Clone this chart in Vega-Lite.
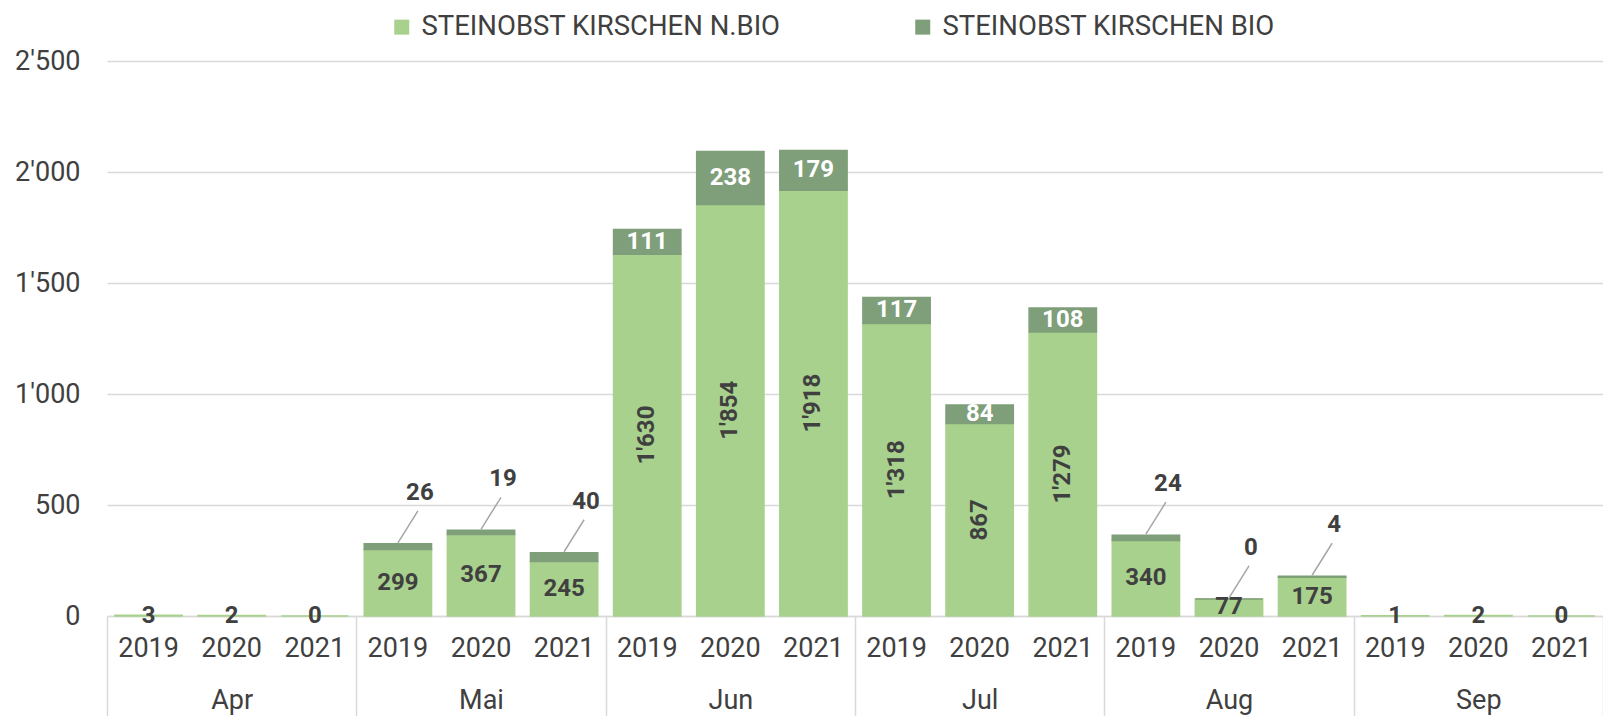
{
  "$schema": "https://vega.github.io/schema/vega-lite/v6.json",
  "width": 1496,
  "height": 555,
  "autosize": {"type": "none"},
  "padding": {"left": 107, "top": 61, "right": 0, "bottom": 100},
  "config": {
    "view": {"stroke": null},
    "font": "Roboto",
    "locale": {"number": {"decimal": ".", "thousands": "'", "grouping": [3], "currency": ["", ""]}}
  },
  "data": {
    "values": [
      {"period": "Apr 2019", "month": "Apr", "year": "2019", "series": "STEINOBST KIRSCHEN N.BIO", "value": 3},
      {"period": "Apr 2020", "month": "Apr", "year": "2020", "series": "STEINOBST KIRSCHEN N.BIO", "value": 2},
      {"period": "Apr 2021", "month": "Apr", "year": "2021", "series": "STEINOBST KIRSCHEN N.BIO", "value": 0},
      {"period": "Mai 2019", "month": "Mai", "year": "2019", "series": "STEINOBST KIRSCHEN N.BIO", "value": 299},
      {"period": "Mai 2019", "month": "Mai", "year": "2019", "series": "STEINOBST KIRSCHEN BIO", "value": 26},
      {"period": "Mai 2020", "month": "Mai", "year": "2020", "series": "STEINOBST KIRSCHEN N.BIO", "value": 367},
      {"period": "Mai 2020", "month": "Mai", "year": "2020", "series": "STEINOBST KIRSCHEN BIO", "value": 19},
      {"period": "Mai 2021", "month": "Mai", "year": "2021", "series": "STEINOBST KIRSCHEN N.BIO", "value": 245},
      {"period": "Mai 2021", "month": "Mai", "year": "2021", "series": "STEINOBST KIRSCHEN BIO", "value": 40},
      {"period": "Jun 2019", "month": "Jun", "year": "2019", "series": "STEINOBST KIRSCHEN N.BIO", "value": 1630},
      {"period": "Jun 2019", "month": "Jun", "year": "2019", "series": "STEINOBST KIRSCHEN BIO", "value": 111},
      {"period": "Jun 2020", "month": "Jun", "year": "2020", "series": "STEINOBST KIRSCHEN N.BIO", "value": 1854},
      {"period": "Jun 2020", "month": "Jun", "year": "2020", "series": "STEINOBST KIRSCHEN BIO", "value": 238},
      {"period": "Jun 2021", "month": "Jun", "year": "2021", "series": "STEINOBST KIRSCHEN N.BIO", "value": 1918},
      {"period": "Jun 2021", "month": "Jun", "year": "2021", "series": "STEINOBST KIRSCHEN BIO", "value": 179},
      {"period": "Jul 2019", "month": "Jul", "year": "2019", "series": "STEINOBST KIRSCHEN N.BIO", "value": 1318},
      {"period": "Jul 2019", "month": "Jul", "year": "2019", "series": "STEINOBST KIRSCHEN BIO", "value": 117},
      {"period": "Jul 2020", "month": "Jul", "year": "2020", "series": "STEINOBST KIRSCHEN N.BIO", "value": 867},
      {"period": "Jul 2020", "month": "Jul", "year": "2020", "series": "STEINOBST KIRSCHEN BIO", "value": 84},
      {"period": "Jul 2021", "month": "Jul", "year": "2021", "series": "STEINOBST KIRSCHEN N.BIO", "value": 1279},
      {"period": "Jul 2021", "month": "Jul", "year": "2021", "series": "STEINOBST KIRSCHEN BIO", "value": 108},
      {"period": "Aug 2019", "month": "Aug", "year": "2019", "series": "STEINOBST KIRSCHEN N.BIO", "value": 340},
      {"period": "Aug 2019", "month": "Aug", "year": "2019", "series": "STEINOBST KIRSCHEN BIO", "value": 24},
      {"period": "Aug 2020", "month": "Aug", "year": "2020", "series": "STEINOBST KIRSCHEN N.BIO", "value": 77},
      {"period": "Aug 2020", "month": "Aug", "year": "2020", "series": "STEINOBST KIRSCHEN BIO", "value": 0},
      {"period": "Aug 2021", "month": "Aug", "year": "2021", "series": "STEINOBST KIRSCHEN N.BIO", "value": 175},
      {"period": "Aug 2021", "month": "Aug", "year": "2021", "series": "STEINOBST KIRSCHEN BIO", "value": 4},
      {"period": "Sep 2019", "month": "Sep", "year": "2019", "series": "STEINOBST KIRSCHEN N.BIO", "value": 1},
      {"period": "Sep 2020", "month": "Sep", "year": "2020", "series": "STEINOBST KIRSCHEN N.BIO", "value": 2},
      {"period": "Sep 2021", "month": "Sep", "year": "2021", "series": "STEINOBST KIRSCHEN N.BIO", "value": 0}
    ]
  },
  "layer": [
    {
      "transform": [
        {"joinaggregate": [{"op": "sum", "field": "value", "as": "total"}], "groupby": ["period"]},
        {"calculate": "datum.series == 'STEINOBST KIRSCHEN N.BIO' ? datum.value / 2 : datum.total - datum.value / 2", "as": "mid"}
      ],
      "encoding": {
        "x": {
          "field": "period",
          "type": "nominal",
          "sort": ["Apr 2019","Apr 2020","Apr 2021","Mai 2019","Mai 2020","Mai 2021","Jun 2019","Jun 2020","Jun 2021","Jul 2019","Jul 2020","Jul 2021","Aug 2019","Aug 2020","Aug 2021","Sep 2019","Sep 2020","Sep 2021"],
          "scale": {"paddingInner": 0.19, "paddingOuter": 0.095},
          "title": null,
          "axis": {
            "orient": "bottom",
            "labelExpr": "split(datum.label, ' ')[1]",
            "labelAngle": 0,
            "labelFont": "Roboto",
            "labelFontSize": 27,
            "labelColor": "#404040",
            "labelPadding": 19,
            "labelOverlap": false,
            "ticks": false,
            "domain": true,
            "domainColor": "#D9D9D9",
            "domainWidth": 1.5,
            "grid": false
          }
        }
      },
      "layer": [
        {
          "mark": {"type": "bar", "strokeWidth": 1.5},
          "encoding": {
            "y": {
              "field": "value",
              "type": "quantitative",
              "stack": "zero",
              "title": null,
              "scale": {"domain": [0, 2500], "nice": false},
              "axis": {
                "values": [0, 500, 1000, 1500, 2000, 2500],
                "labelExpr": "replace(format(datum.value, ','), ',', \"'\")",
                "labelFont": "Roboto",
                "labelFontSize": 27,
                "labelColor": "#404040",
                "labelPadding": 27,
                "ticks": false,
                "domain": false,
                "grid": true,
                "gridColor": "#D9D9D9",
                "gridWidth": 1.5
              }
            },
            "color": {
              "field": "series",
              "type": "nominal",
              "scale": {"domain": ["STEINOBST KIRSCHEN N.BIO", "STEINOBST KIRSCHEN BIO"], "range": ["#A9D18E", "#7F9E7A"]},
              "legend": {
                "title": null,
                "orient": "none",
                "legendX": 281,
                "legendY": -48,
                "direction": "horizontal",
                "symbolType": "square",
                "symbolSize": 225,
                "symbolStrokeWidth": 0,
                "labelFont": "Roboto",
                "labelFontSize": 27.5,
                "labelColor": "#404040",
                "labelOffset": 6,
                "labelLimit": 600,
                "columnPadding": 128
              }
            },
            "stroke": {
              "field": "series",
              "type": "nominal",
              "scale": {"domain": ["STEINOBST KIRSCHEN N.BIO", "STEINOBST KIRSCHEN BIO"], "range": ["#A9D18E", "#7F9E7A"]},
              "legend": null
            },
            "order": {"field": "series", "sort": "descending"}
          }
        },
        {
          "transform": [{"filter": "datum.series == 'STEINOBST KIRSCHEN N.BIO'"}],
          "mark": {"type": "text", "font": "Roboto", "fontWeight": "bold", "fontSize": 24, "color": "#404040", "baseline": "middle", "align": "center"},
          "encoding": {
            "y": {"field": "mid", "type": "quantitative", "title": null},
            "text": {"field": "value", "type": "quantitative", "format": ",d"},
            "angle": {"condition": {"test": "datum.value > 800", "value": 270}, "value": 0}
          }
        },
        {
          "transform": [{"filter": "datum.series == 'STEINOBST KIRSCHEN BIO' && datum.value >= 60"}],
          "mark": {"type": "text", "font": "Roboto", "fontWeight": "bold", "fontSize": 24, "color": "#FFFFFF", "baseline": "middle", "align": "center"},
          "encoding": {
            "y": {"field": "mid", "type": "quantitative", "title": null},
            "text": {"field": "value", "type": "quantitative", "format": ",d"}
          }
        },
        {
          "transform": [{"filter": "datum.series == 'STEINOBST KIRSCHEN BIO' && datum.value < 60"}],
          "mark": {"type": "rule", "color": "#A6A6A6", "strokeWidth": 1.5, "yOffset": -1, "x2Offset": 20, "y2Offset": -33},
          "encoding": {
            "y": {"field": "total", "type": "quantitative", "title": null},
            "y2": {"field": "total"},
            "x2": {"field": "period"}
          }
        },
        {
          "transform": [{"filter": "datum.series == 'STEINOBST KIRSCHEN BIO' && datum.value < 60"}],
          "mark": {"type": "text", "font": "Roboto", "fontWeight": "bold", "fontSize": 24, "color": "#404040", "baseline": "middle", "align": "center", "dx": 22, "dy": -51},
          "encoding": {
            "y": {"field": "total", "type": "quantitative", "title": null},
            "text": {"field": "value", "type": "quantitative", "format": ",d"}
          }
        }
      ]
    },
    {
      "mark": {"type": "point", "opacity": 0},
      "encoding": {
        "x": {
          "field": "month",
          "type": "nominal",
          "sort": ["Apr", "Mai", "Jun", "Jul", "Aug", "Sep"],
          "scale": {"paddingInner": 0, "paddingOuter": 0},
          "title": null,
          "axis": {
            "orient": "bottom",
            "tickBand": "extent",
            "labelAngle": 0,
            "labelFont": "Roboto",
            "labelFontSize": 27,
            "labelColor": "#404040",
            "labelPadding": -30,
            "labelOverlap": false,
            "ticks": true,
            "tickSize": 101,
            "tickColor": "#D9D9D9",
            "tickWidth": 1.5,
            "domain": false,
            "grid": false
          }
        }
      }
    }
  ],
  "resolve": {"scale": {"x": "independent"}, "axis": {"x": "independent"}}
}
